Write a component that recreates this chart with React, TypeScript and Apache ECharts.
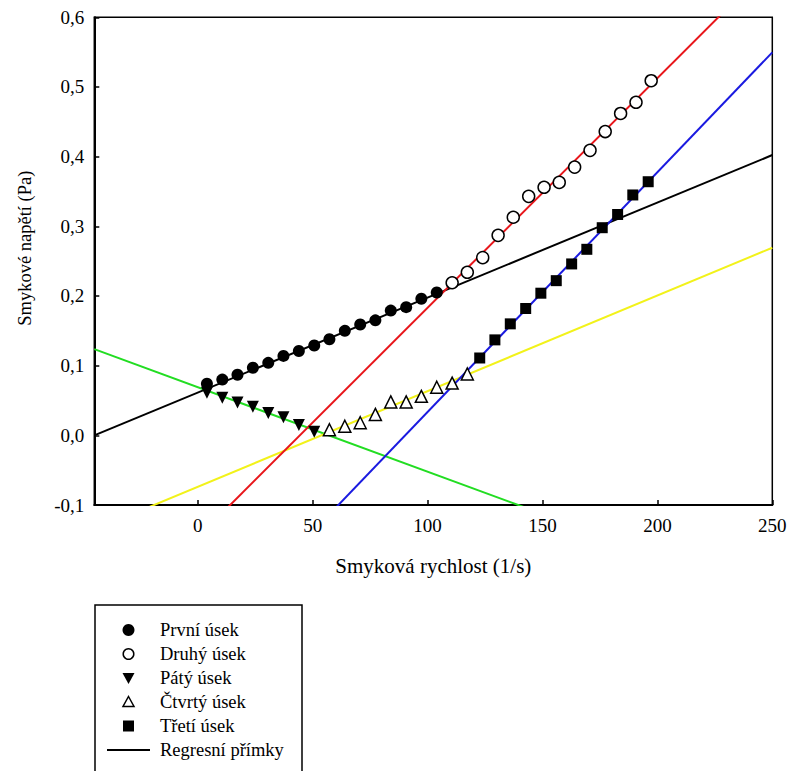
import React, { useEffect, useRef } from "react";
import * as echarts from "echarts";

// Measured flow-curve segments: shear rate (1/s) and shear stress (Pa)
const prvniX = [4, 10.7, 17.3, 24, 30.7, 37.3, 44, 50.7, 57.3, 64, 70.7, 77.3, 84, 90.7, 97.3, 104];
const prvniY = [0.074, 0.08, 0.087, 0.097, 0.104, 0.114, 0.121, 0.129, 0.138, 0.15, 0.159, 0.165, 0.179, 0.184, 0.196, 0.205];

const druhyX = [110.7, 117.3, 124, 130.7, 137.3, 144, 150.7, 157.3, 164, 170.7, 177.3, 184, 190.7, 197.3];
const druhyY = [0.219, 0.234, 0.255, 0.287, 0.313, 0.343, 0.356, 0.363, 0.385, 0.409, 0.436, 0.462, 0.478, 0.509];

const tretiX = [122.7, 129.3, 136, 142.7, 149.3, 156, 162.7, 169.3, 176, 182.7, 189.3, 196];
const tretiY = [0.111, 0.137, 0.16, 0.182, 0.204, 0.222, 0.246, 0.267, 0.298, 0.317, 0.345, 0.364];

const ctvrtyX = [57.3, 64, 70.7, 77.3, 84, 90.7, 97.3, 104, 110.7, 117.3];
const ctvrtyY = [0.008, 0.013, 0.018, 0.03, 0.048, 0.048, 0.056, 0.069, 0.075, 0.088];

const patyX = [4, 10.7, 17.3, 24, 30.7, 37.3, 44, 50.7];
const patyY = [0.061, 0.054, 0.047, 0.041, 0.032, 0.026, 0.015, 0.005];

// Regression lines, given by their end points across the x range
const lineX = [-45, 250];
const regCerna = [0.0, 0.4023];
const regZelena = [0.1237, -0.234];
const regZluta = [-0.1357, 0.2693];
const regCervena = [-0.2948, 0.6774];
const regModra = [-0.4655, 0.5497];

const xTicks = [0, 50, 100, 150, 200, 250];

// Legend entries and the marker each one uses
const legendNames = ["První úsek", "Druhý úsek", "Pátý úsek", "Čtvrtý úsek", "Třetí úsek", "Regresní přímky"];
const legendKinds = ["dot", "ring", "down", "up", "square", "line"];

const FONT = "Liberation Serif";
const TRI_DOWN = "path://M0,0 L10,0 L5,9 Z";
const TRI_UP = "path://M5,0 L10,9 L0,9 Z";
const SQUARE = "path://M0,0 L10,0 L10,10 L0,10 Z";

const zip = (xs: number[], ys: number[]) => xs.map((x, i) => [x, ys[i]]);

// Legend box drawn with graphic elements
function legendGraphic() {
  const boxX = 95;
  const boxY = 605;
  const iconX = 128.5;
  const textX = 160;
  const rowTop = 630;
  const rowStep = 24;
  const els: any[] = [
    {
      type: "rect",
      shape: { x: boxX, y: boxY, width: 207, height: 200 },
      style: { fill: "none", stroke: "#000", lineWidth: 1.5 },
    },
  ];
  legendNames.forEach((name, i) => {
    const cy = rowTop + i * rowStep;
    const kind = legendKinds[i];
    if (kind === "dot") {
      els.push({ type: "circle", shape: { cx: iconX, cy, r: 6 }, style: { fill: "#000" } });
    } else if (kind === "ring") {
      els.push({ type: "circle", shape: { cx: iconX, cy, r: 5.3 }, style: { fill: "#fff", stroke: "#000", lineWidth: 1.5 } });
    } else if (kind === "down") {
      els.push({
        type: "polygon",
        shape: { points: [[iconX - 6, cy - 5], [iconX + 6, cy - 5], [iconX, cy + 6]] },
        style: { fill: "#000" },
      });
    } else if (kind === "up") {
      els.push({
        type: "polygon",
        shape: { points: [[iconX, cy - 5.5], [iconX + 5.5, cy + 4.5], [iconX - 5.5, cy + 4.5]] },
        style: { fill: "#fff", stroke: "#000", lineWidth: 1.5 },
      });
    } else if (kind === "square") {
      els.push({ type: "rect", shape: { x: iconX - 5.5, y: cy - 5.5, width: 11, height: 11 }, style: { fill: "#000" } });
    } else {
      els.push({ type: "line", shape: { x1: 107, y1: cy, x2: 150, y2: cy }, style: { stroke: "#000", lineWidth: 2 } });
    }
    els.push({
      type: "text",
      x: textX,
      y: cy,
      style: { text: name, fontFamily: FONT, fontSize: 18.5, fill: "#000", verticalAlign: "middle", align: "left" },
    });
  });
  return els;
}

export default function App() {
  const ref = useRef<HTMLDivElement>(null);

  useEffect(() => {
    if (!ref.current) return;
    const chart = echarts.init(ref.current, null, { renderer: "svg" });

    const regLine = (name: string, ys: number[], color: string) => ({
      name,
      type: "line",
      data: zip(lineX, ys),
      symbol: "none",
      clip: true,
      lineStyle: { color, width: 2 },
      itemStyle: { color },
      z: 2,
    });

    const scatter = (name: string, xs: number[], ys: number[], symbol: string, size: number, fill: string, border?: string) => ({
      name,
      type: "scatter",
      data: zip(xs, ys),
      symbol,
      symbolSize: size,
      itemStyle: border
        ? { color: fill, borderColor: border, borderWidth: 1.5, opacity: 1 }
        : { color: fill, opacity: 1 },
      z: 5,
    });

    chart.setOption({
      animation: false,
      backgroundColor: "#fff",
      textStyle: { fontFamily: FONT },
      grid: {
        left: 94.3,
        top: 17.3,
        right: 19.7,
        bottom: 266,
        show: true,
        borderColor: "#000",
        borderWidth: 1.5,
      },
      xAxis: {
        type: "value",
        min: -45,
        max: 250,
        name: "Smyková rychlost (1/s)",
        nameLocation: "middle",
        nameGap: 50,
        nameTextStyle: { fontFamily: FONT, fontSize: 21, color: "#000" },
        axisLine: { show: true, onZero: false, lineStyle: { color: "#000", width: 2 } },
        axisTick: { show: true, inside: true, length: 5, customValues: xTicks, lineStyle: { color: "#000", width: 1.5 } },
        axisLabel: {
          customValues: xTicks,
          margin: 11,
          fontFamily: FONT,
          fontSize: 19,
          color: "#000",
        },
        splitLine: { show: false },
      },
      yAxis: {
        type: "value",
        min: -0.1,
        max: 0.6,
        interval: 0.1,
        name: "Smykové napětí (Pa)",
        nameLocation: "middle",
        nameGap: 60,
        nameTextStyle: { fontFamily: FONT, fontSize: 18.5, color: "#000", padding: [0, 0, 0, 26] },
        axisLine: { show: true, onZero: false, lineStyle: { color: "#000", width: 2 } },
        axisTick: { show: true, inside: true, length: 5, lineStyle: { color: "#000", width: 1.5 } },
        axisLabel: {
          margin: 10,
          fontFamily: FONT,
          fontSize: 19,
          color: "#000",
          formatter: (v: number) => v.toFixed(1).replace(".", ","),
        },
        splitLine: { show: false },
      },
      graphic: legendGraphic(),
      series: [
        regLine("Regresní přímky", regCerna, "#000000"),
        regLine("Regrese 5", regZelena, "#22dd22"),
        regLine("Regrese 4", regZluta, "#f2f21a"),
        regLine("Regrese 2", regCervena, "#e8161b"),
        regLine("Regrese 3", regModra, "#1a1ae0"),
        scatter("První úsek", prvniX, prvniY, "circle", 12, "#000"),
        scatter("Druhý úsek", druhyX, druhyY, "circle", 12, "#fff", "#000"),
        scatter("Pátý úsek", patyX, patyY, TRI_DOWN, 12, "#000"),
        scatter("Čtvrtý úsek", ctvrtyX, ctvrtyY, TRI_UP, 12, "#fff", "#000"),
        scatter("Třetí úsek", tretiX, tretiY, SQUARE, 11, "#000"),
      ],
    });

    return () => chart.dispose();
  }, []);

  return (
    <div
      ref={ref}
      style={{ position: "absolute", left: 0, top: 0, width: 792, height: 771, background: "#fff" }}
    />
  );
}
